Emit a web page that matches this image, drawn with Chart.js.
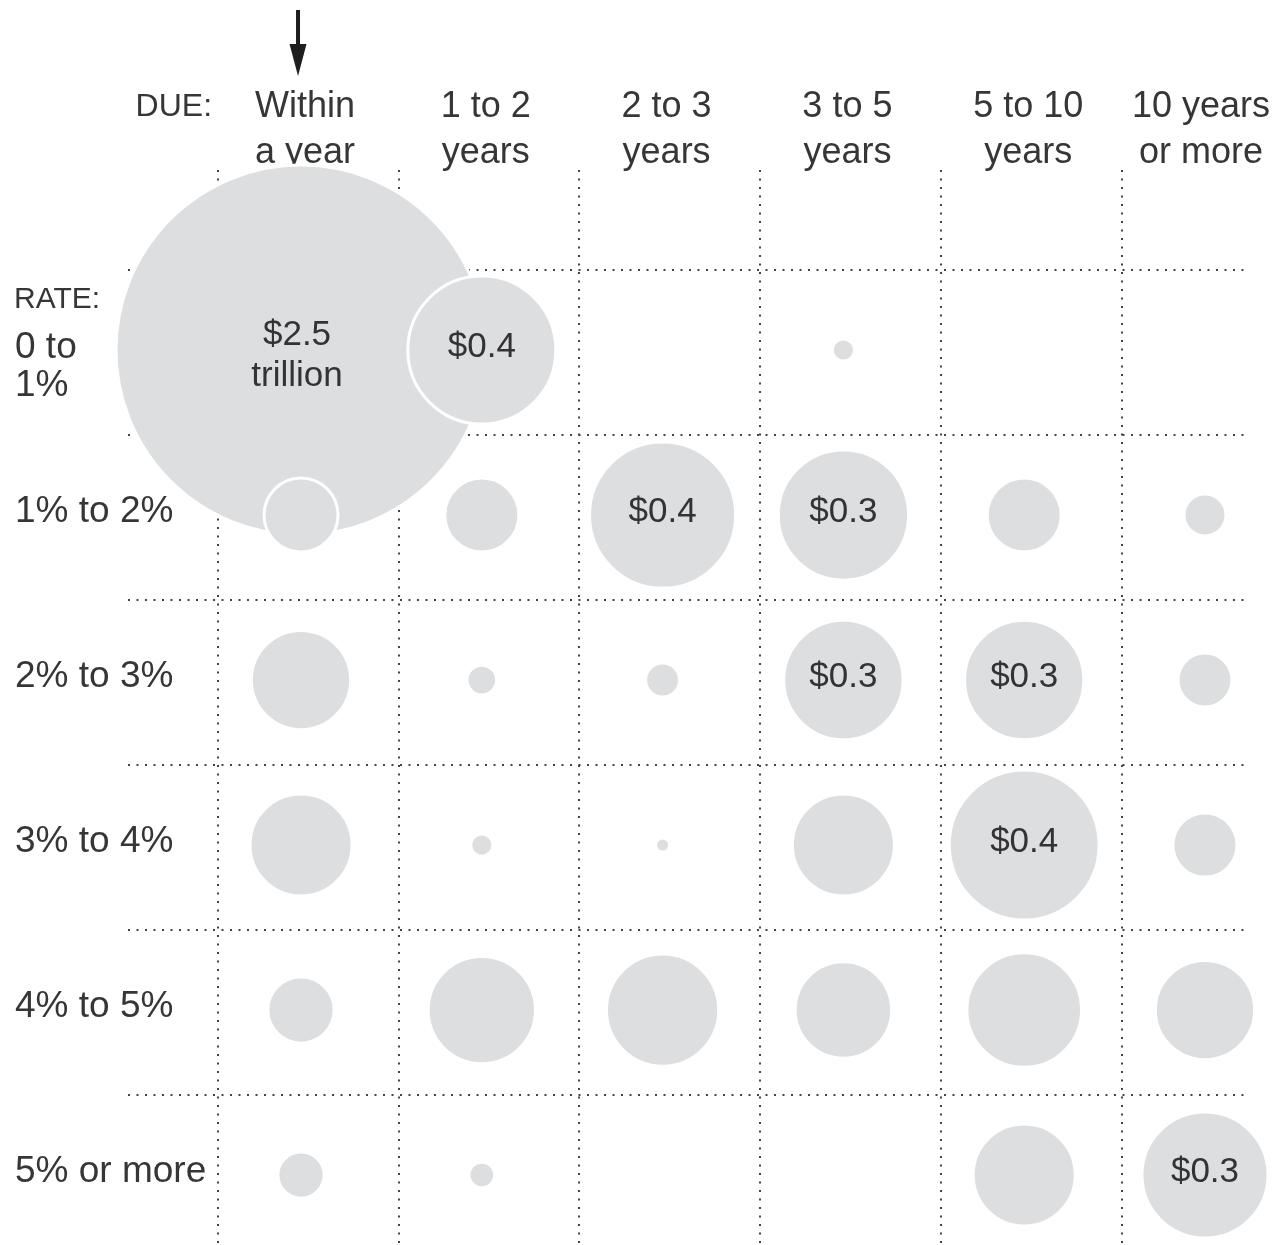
<!DOCTYPE html>
<html>
<head>
<meta charset="utf-8">
<script src="https://cdn.jsdelivr.net/npm/chart.js@4.4.0/dist/chart.umd.min.js"></script>
<style>
  html, body { margin: 0; padding: 0; background: #fff; }
  #wrap { position: relative; width: 1277px; height: 1245px; }
</style>
</head>
<body>
<div id="wrap"><canvas id="c"></canvas></div>
<script>
// ---- Data (values in trillions of dollars) ----
const maturities = [["Within", "a year"], ["1 to 2", "years"], ["2 to 3", "years"], ["3 to 5", "years"], ["5 to 10", "years"], ["10 years", "or more"]];
const rates = [["0 to", "1%"], ["1% to 2%"], ["2% to 3%"], ["3% to 4%"], ["4% to 5%"], ["5% or more"]];
const dueTitle = "DUE:";
const rateTitle = "RATE:";
const unitWord = "trillion";

// one array per rate row, one value per maturity column (null = no debt)
const rate0to1  = [2.5,   0.4,   null,   0.009, null, null];
const rate1to2  = [0.1,   0.1,   0.39,   0.31,  0.1,  0.032];
const rate2to3  = [0.18,  0.016, 0.021,  0.26,  0.26, 0.053];
const rate3to4  = [0.19,  0.009, 0.0036, 0.19,  0.41, 0.075];
const rate4to5  = [0.08,  0.21,  0.23,   0.17,  0.24, 0.18];
const rate5plus = [0.039, 0.012, null,   null,  0.19, 0.29];
const seriesRows = [rate0to1, rate1to2, rate2to3, rate3to4, rate4to5, rate5plus];
const labelThreshold = 0.25;

// ---- Styling ----
const FONT = "'Liberation Sans', Arial, Helvetica, sans-serif";
const TEXT = '#363636';
const BUBBLE = '#dddee0';
const AREA_SCALE = 117; // px of radius per sqrt(trillion): bubble area ~ value

const datasets = seriesRows.map((vals, r) => ({
  label: rates[r].join(' '),
  data: vals.map((v, c) => (v == null ? null : { x: c, y: r, v: v })).filter(Boolean),
  order: r === 0 ? 10 : 1,
  backgroundColor: BUBBLE,
  borderColor: '#ffffff',
  borderWidth: 3,
  hoverBorderWidth: 3,
  clip: false,
  radius: (ctx) => (ctx.raw && ctx.raw.v != null ? AREA_SCALE * Math.sqrt(ctx.raw.v) : 0),
  hoverRadius: 0
}));

const labelsPlugin = {
  id: 'gridLabels',
  beforeDatasetsDraw(chart) {
    const { ctx, chartArea, scales: { x, y }, width } = chart;
    ctx.save();
    ctx.fillStyle = TEXT;
    ctx.textBaseline = 'middle';

    // column headers (kept inside the canvas on the right)
    ctx.font = `36px ${FONT}`;
    ctx.textAlign = 'center';
    maturities.forEach((lines, i) => {
      const half = Math.max(...lines.map(t => ctx.measureText(t).width)) / 2;
      const cx = Math.min(x.getPixelForValue(i) + 4, width - 7 - half);
      lines.forEach((t, j) => ctx.fillText(t, cx, chartArea.top - 63 + j * 46));
    });

    // DUE:
    ctx.font = `32px ${FONT}`;
    ctx.textAlign = 'right';
    ctx.fillText(dueTitle, x.getPixelForValue(0) - 89, chartArea.top - 63);

    // row labels
    ctx.textAlign = 'left';
    ctx.font = `37px ${FONT}`;
    rates.forEach((lines, i) => {
      const cy = y.getPixelForValue(i) - 3;
      lines.forEach((t, j) => ctx.fillText(t, 15, cy + (lines.length > 1 ? 1 : 0) + j * 38));
    });
    ctx.font = `30px ${FONT}`;
    ctx.fillText(rateTitle, 14, y.getPixelForValue(0) - 50);

    // arrow pointing at first column
    const ax = x.getPixelForValue(0) - 3;
    ctx.fillStyle = '#1e1e1e';
    ctx.fillRect(ax - 2, 10, 4, 38);
    ctx.beginPath();
    ctx.moveTo(ax - 8.5, 44);
    ctx.lineTo(ax + 8.5, 44);
    ctx.lineTo(ax, 76);
    ctx.closePath();
    ctx.fill();
    ctx.restore();
  },
  afterDatasetsDraw(chart) {
    const { ctx } = chart;
    ctx.save();
    ctx.fillStyle = '#333333';
    ctx.textAlign = 'center';
    ctx.textBaseline = 'middle';
    ctx.font = `35px ${FONT}`;
    chart.data.datasets.forEach((ds, di) => {
      const meta = chart.getDatasetMeta(di);
      meta.data.forEach((el, i) => {
        const v = ds.data[i].v;
        if (v < labelThreshold) return;
        const txt = '$' + v.toFixed(1);
        if (v >= 1) {
          ctx.fillText(txt, el.x - 4, el.y - 15);
          ctx.fillText(unitWord, el.x - 4, el.y + 26);
        } else {
          ctx.fillText(txt, el.x, el.y - 3);
        }
      });
    });
    ctx.restore();
  }
};

const gridScale = (min, max, offset, reverse) => ({
  type: 'linear',
  min: min,
  max: max,
  reverse: reverse,
  afterBuildTicks: (scale) => {
    scale.ticks = [0, 1, 2, 3, 4, 5].map(k => ({ value: k - offset }));
  },
  ticks: { display: false },
  grid: { display: true, drawTicks: false, color: '#444444', lineWidth: 2 },
  border: { display: false, dash: [2, 6.5] }
});

new Chart(document.getElementById('c'), {
  type: 'bubble',
  data: { datasets: datasets },
  options: {
    responsive: true,
    maintainAspectRatio: false,
    animation: false,
    events: [],
    layout: { autoPadding: false, padding: { left: 128, right: 27, top: 170, bottom: 0 } },
    scales: {
      x: gridScale(-0.957, 5.249, 0.46, false),
      y: gridScale(-1.091, 5.424, 0.485, true)
    },
    plugins: { legend: { display: false }, tooltip: { enabled: false } }
  },
  plugins: [labelsPlugin]
});
</script>
</body>
</html>
